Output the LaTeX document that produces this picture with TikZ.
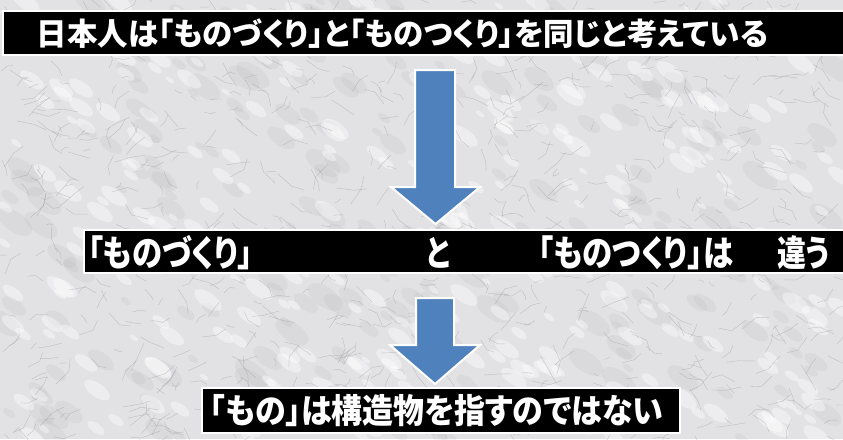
\documentclass[tikz,border=0pt]{standalone}
\usepackage{fontspec}
\newfontfamily\jp{Noto Sans CJK JP}[RawFeature=+palt]
\usepackage{graphicx}
\definecolor{arrowblue}{RGB}{79,129,189}
\definecolor{marble}{RGB}{226,226,229}
\tikzset{
  bar/.style={fill=black,draw=white,line width=2.2pt},
  jtext/.style={text=white,inner sep=0pt,anchor=center},
  jtop/.style={jtext,font=\jp\bfseries\fontsize{31pt}{34pt}\selectfont,text height=27.3pt,text depth=3.7pt},
  jmid/.style={jtext,font=\jp\bfseries\fontsize{36pt}{40pt}\selectfont,text height=31.7pt,text depth=4.3pt},
  jbot/.style={jtext,font=\jp\bfseries\fontsize{34pt}{38pt}\selectfont,text height=29.9pt,text depth=4.1pt},
  blockarrow/.style={fill=arrowblue,draw=white,line width=2pt,line join=miter},
  vein/.style={draw=gray!80,line width=0.45pt,opacity=0.45,line cap=round},
  blot/.style={fill=white,opacity=0.4,draw=none},
  shade/.style={fill=gray!70,opacity=0.12,draw=none},
}
\newcommand\fitw[2]{\resizebox{#1}{\height}{#2}}
\begin{document}
\begin{tikzpicture}[x=1pt,y=-1pt]
\useasboundingbox (0,0) rectangle (843,439);
% marble background
\fill[marble] (0,0) rectangle (843,439);
\pgfmathsetseed{11}
\foreach \i in {1,...,260}{
  \pgfmathsetmacro\sx{random(0,843)}
  \pgfmathsetmacro\sy{random(0,439)}
  \pgfmathsetmacro\sr{random(6,20)}
  \fill[shade,rotate around={-35:(\sx,\sy)}] (\sx,\sy) ellipse ({\sr} and {0.5*\sr});
}
\foreach \i in {1,...,320}{
  \pgfmathsetmacro\bx{random(0,843)}
  \pgfmathsetmacro\by{random(0,439)}
  \pgfmathsetmacro\br{random(5,16)}
  \fill[blot,rotate around={-35:(\bx,\by)}] (\bx,\by) ellipse ({\br} and {0.45*\br});
}
\foreach \i in {1,...,800}{
  \pgfmathsetmacro\vx{random(0,843)}
  \pgfmathsetmacro\vy{random(0,439)}
  \pgfmathsetmacro\va{random(-70,70)+(random(0,1)*180)}
  \pgfmathsetmacro\vl{random(4,18)}
  \pgfmathsetmacro\vb{random(-50,50)}
  \draw[vein] (\vx,\vy) -- ++({\va}:{\vl}) -- ++({\va+\vb}:{0.7*\vl});
}
% bars
\path[bar] (3,11) rectangle (850,55);
\path[bar] (84,230) rectangle (850,273);
\path[bar] (202,388) rectangle (680,433);
% arrows
\path[blockarrow] (415,70) -- (455,70) -- (455,187) -- (480,187) -- (435.5,224)
  -- (391,187) -- (415,187) -- cycle;
\path[blockarrow] (416,298) -- (454,298) -- (454,345) -- (480,345) -- (435,384)
  -- (390,345) -- (416,345) -- cycle;
% texts
\node[jtop] (top) at (402.5,34)
  {\fitw{731pt}{日本人は「ものづくり」と「ものつくり」を同じと考えている}};
\node[jmid] (m1) at (170.5,253)
  {\fitw{165pt}{「ものづくり」}};
\node[jmid] (m2) at (438,253)
  {\fitw{24pt}{と}};
\node[jmid] (m3) at (635.5,253)
  {\fitw{195pt}{「ものつくり」は}};
\node[jmid] (m4) at (803.5,253)
  {\fitw{53pt}{違う}};
\node[jbot] (bot) at (436.5,411)
  {\fitw{453pt}{「もの」は構造物を指すのではない}};
\end{tikzpicture}
\end{document}
